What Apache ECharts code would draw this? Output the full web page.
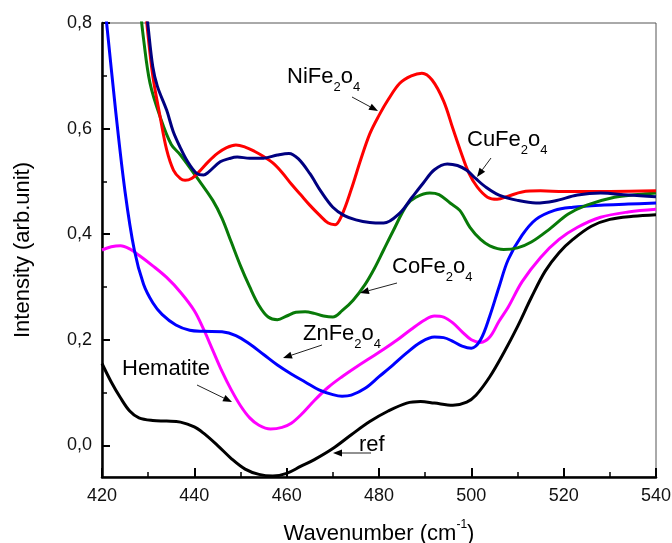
<!DOCTYPE html>
<html>
<head>
<meta charset="utf-8">
<script src="https://cdn.jsdelivr.net/npm/echarts@6/dist/echarts.min.js"></script>
<style>
  html, body { margin: 0; padding: 0; background: #fff; }
  #main { width: 672px; height: 543px; }
</style>
</head>
<body>
<div id="main"></div>
<script>
// wavenumber / intensity
const refX = [420, 422, 424, 426, 428, 431, 434, 437, 440, 442, 445, 448, 451, 454, 457, 460, 463, 466, 470, 474, 478, 482, 486, 489, 492, 496, 499, 501, 504, 507, 510, 513, 516, 519, 522, 526, 530, 535, 540];
const refY = [0.155, 0.12, 0.09, 0.065, 0.052, 0.047, 0.046, 0.044, 0.035, 0.023, 0.0, -0.025, -0.045, -0.055, -0.058, -0.053, -0.04, -0.027, -0.006, 0.02, 0.045, 0.065, 0.08, 0.083, 0.08, 0.076, 0.082, 0.095, 0.13, 0.175, 0.225, 0.28, 0.33, 0.365, 0.39, 0.415, 0.428, 0.434, 0.437];

const hemX = [420, 422, 424, 426, 428, 431, 434, 437, 440, 442, 444, 446, 448, 450, 452, 454, 456.5, 459, 461, 463, 466, 469, 472, 475, 478, 481, 484, 487, 490, 492, 494, 496, 498, 500, 502, 504, 506, 508, 511, 515, 519, 523, 528, 534, 540];
const hemY = [0.37, 0.376, 0.378, 0.372, 0.36, 0.34, 0.318, 0.29, 0.255, 0.22, 0.18, 0.14, 0.105, 0.075, 0.052, 0.038, 0.031, 0.034, 0.042, 0.057, 0.085, 0.11, 0.13, 0.148, 0.165, 0.182, 0.2, 0.22, 0.238, 0.245, 0.243, 0.232, 0.215, 0.2, 0.195, 0.205, 0.235, 0.262, 0.31, 0.356, 0.39, 0.413, 0.432, 0.442, 0.447];

const znX = [420, 421, 423, 425, 427, 429, 431, 433, 436, 439, 442, 446, 449, 452, 455, 458, 461, 464, 467, 470, 472, 474, 477, 480, 483, 486, 489, 492, 494, 496, 498, 500, 502, 504, 506, 508, 511, 514, 518, 522, 528, 534, 540];
const znY = [0.88, 0.8, 0.63, 0.48, 0.37, 0.305, 0.27, 0.248, 0.228, 0.218, 0.216, 0.215, 0.208, 0.192, 0.172, 0.152, 0.135, 0.12, 0.105, 0.096, 0.093, 0.095, 0.108, 0.13, 0.152, 0.175, 0.195, 0.205, 0.204, 0.197, 0.188, 0.184, 0.2, 0.245, 0.3, 0.352, 0.398, 0.428, 0.445, 0.451, 0.455, 0.457, 0.459];

const coX = [427, 428, 429, 430.4, 432.6, 435, 437, 440.5, 444, 446, 448, 450, 452, 454, 456, 458, 460, 462, 464, 466, 468, 470, 472, 474.4, 477, 479, 481, 483, 486, 488, 491, 493, 495.4, 497.5, 499.7, 502, 504, 507, 510, 513, 517, 521, 525, 531, 536, 540];
const coY = [0.93, 0.85, 0.77, 0.686, 0.622, 0.57, 0.55, 0.508, 0.464, 0.43, 0.385, 0.34, 0.3, 0.265, 0.243, 0.238, 0.245, 0.252, 0.253, 0.25, 0.245, 0.243, 0.255, 0.275, 0.305, 0.335, 0.37, 0.405, 0.455, 0.47, 0.478, 0.475, 0.459, 0.445, 0.413, 0.39, 0.378, 0.371, 0.374, 0.385, 0.41, 0.438, 0.455, 0.47, 0.475, 0.478];

const niX = [428, 429.7, 431, 432.6, 434, 435.5, 437, 438, 439.5, 441, 443, 445, 447, 449, 451, 453, 455, 457, 459, 461, 463, 465, 467, 469, 470.5, 472, 474, 476, 478, 480, 482, 484.5, 487, 489.3, 491.5, 494, 496, 497.6, 499.5, 501.3, 503.5, 505.6, 508, 511, 515, 520, 530, 540];
const niY = [0.95, 0.8, 0.7, 0.622, 0.56, 0.521, 0.505, 0.502, 0.506, 0.518, 0.537, 0.553, 0.564, 0.569, 0.565, 0.557, 0.547, 0.535, 0.517, 0.495, 0.475, 0.455, 0.437, 0.421, 0.418, 0.437, 0.485, 0.54, 0.59, 0.625, 0.655, 0.686, 0.7, 0.705, 0.692, 0.652, 0.6, 0.559, 0.515, 0.489, 0.47, 0.466, 0.472, 0.48, 0.482, 0.481, 0.481, 0.482];

const cuX = [428, 429.9, 431, 432, 434, 435.4, 436.9, 438.5, 440.5, 442, 443, 445.6, 447.5, 449.3, 452, 455, 458, 460.5, 462.5, 465, 467.5, 470, 472.5, 475, 478, 481, 484.5, 487, 489.6, 492, 494.8, 497, 499, 501, 503, 506, 510, 514, 518, 523, 528, 534, 540];
const cuY = [0.95, 0.8, 0.717, 0.68, 0.635, 0.595, 0.565, 0.538, 0.515, 0.512, 0.517, 0.537, 0.543, 0.546, 0.544, 0.544, 0.55, 0.553, 0.543, 0.515, 0.48, 0.451, 0.435, 0.427, 0.422, 0.421, 0.44, 0.468, 0.497, 0.522, 0.533, 0.53, 0.521, 0.505, 0.49, 0.474, 0.464, 0.459, 0.463, 0.474, 0.478, 0.474, 0.471];

const yMajor = [0, 0.2, 0.4, 0.6, 0.8];
const yMinor = [0.1, 0.3, 0.5, 0.7];

const FONT = 'Liberation Sans, Arial, sans-serif';

function pairs(xs, ys) {
    return xs.map((x, i) => [x, ys[i]]);
}

function curve(name, xs, ys, color) {
    return {
        name: name,
        type: 'line',
        data: pairs(xs, ys),
        smooth: 0.35,
        showSymbol: false,
        clip: true,
        lineStyle: {color: color, width: 3},
        z: 3
    };
}

// label with subscripts
function label(x, y, parts) {
    let s = parts.map(p => p[1] ? '{s|' + p[0] + '}' : '{a|' + p[0] + '}').join('');
    return {
        type: 'text',
        x: x, y: y,
        z: 10,
        style: {
            text: s,
            fill: '#000',
            rich: {
                a: {fontSize: 22, fontFamily: FONT, color: '#000', lineHeight: 28, verticalAlign: 'top'},
                s: {fontSize: 13, fontFamily: FONT, color: '#444', lineHeight: 14, verticalAlign: 'bottom'}
            }
        }
    };
}

function arrow(x1, y1, x2, y2) {
    let dx = x2 - x1, dy = y2 - y1;
    let len = Math.sqrt(dx * dx + dy * dy);
    let ux = dx / len, uy = dy / len;
    let hl = 9, hw = 3.5;
    let bx = x2 - ux * hl, by = y2 - uy * hl;
    return [
        {type: 'line', z: 10, shape: {x1: x1, y1: y1, x2: bx, y2: by}, style: {stroke: '#222', lineWidth: 1}},
        {type: 'polygon', z: 10, shape: {points: [[x2, y2], [bx - uy * hw, by + ux * hw], [bx + uy * hw, by - ux * hw]]}, style: {fill: '#000'}}
    ];
}

let myChart = echarts.init(document.getElementById('main'));

let option = {
    backgroundColor: '#fff',
    animation: false,
    grid: {
        left: 102, right: 16, top: 23, bottom: 66,
        outerBoundsMode: 'none',
        show: true, borderColor: '#555', borderWidth: 1
    },
    xAxis: {
        type: 'value',
        min: 420, max: 540, interval: 20,
        name: '{a|Wavenumber (cm}{s|-1}{a|)}',
        nameLocation: 'middle',
        nameGap: 42,
        nameTextStyle: {
            rich: {
                a: {fontSize: 22, fontFamily: FONT, color: '#000', lineHeight: 26, verticalAlign: 'bottom'},
                s: {fontSize: 12, fontFamily: FONT, color: '#000', lineHeight: 26, verticalAlign: 'top'}
            }
        },
        axisLine: {show: true, onZero: false, lineStyle: {color: '#000', width: 2.5}},
        axisTick: {show: true, inside: true, length: 9, lineStyle: {color: '#000', width: 2}},
        minorTick: {show: true, splitNumber: 2, length: 5, lineStyle: {color: '#000', width: 1.5}},
        axisLabel: {fontSize: 18, fontFamily: FONT, color: '#111', margin: 10},
        splitLine: {show: false}
    },
    yAxis: [
        {
            type: 'value',
            min: -0.06, max: 0.8,
            name: 'Intensity (arb.unit)',
            nameLocation: 'middle',
            nameRotate: 90,
            nameGap: 68,
            nameTextStyle: {fontSize: 22, fontFamily: FONT, color: '#000'},
            axisLine: {show: true, onZero: false, lineStyle: {color: '#000', width: 2.5}},
            axisTick: {show: true, inside: true, length: 8, customValues: yMajor, lineStyle: {color: '#000', width: 2}},
            axisLabel: {
                fontSize: 18, fontFamily: FONT, color: '#111', margin: 10,
                customValues: yMajor,
                formatter: v => v.toFixed(1).replace('.', ',')
            },
            splitLine: {show: false}
        },
        {
            type: 'value',
            min: -0.06, max: 0.8,
            position: 'left',
            axisLine: {show: false},
            axisTick: {show: true, inside: true, length: 5, customValues: yMinor, lineStyle: {color: '#000', width: 1.5}},
            axisLabel: {show: false},
            splitLine: {show: false}
        }
    ],
    series: [
        curve('ref', refX, refY, '#000000'),
        curve('Hematite', hemX, hemY, '#ff00ff'),
        curve('ZnFe2o4', znX, znY, '#0000ff'),
        curve('CoFe2o4', coX, coY, '#087a08'),
        curve('NiFe2o4', niX, niY, '#ff0000'),
        curve('CuFe2o4', cuX, cuY, '#000080')
    ],
    graphic: [
        label(287, 66, [['NiFe'], ['2', 1], ['o'], ['4', 1]]),
        label(467, 129, [['CuFe'], ['2', 1], ['o'], ['4', 1]]),
        label(392, 256, [['CoFe'], ['2', 1], ['o'], ['4', 1]]),
        label(303, 323, [['ZnFe'], ['2', 1], ['o'], ['4', 1]]),
        label(122, 358, [['Hematite']]),
        label(359, 434, [['ref']]),
        ...arrow(352, 97, 378, 111),
        ...arrow(491, 158, 477, 177),
        ...arrow(397, 283, 360, 293),
        ...arrow(322, 345, 283, 358),
        ...arrow(197, 385, 232, 402),
        ...arrow(371, 453, 333, 453)
    ]
};

myChart.setOption(option);
</script>
</body>
</html>
